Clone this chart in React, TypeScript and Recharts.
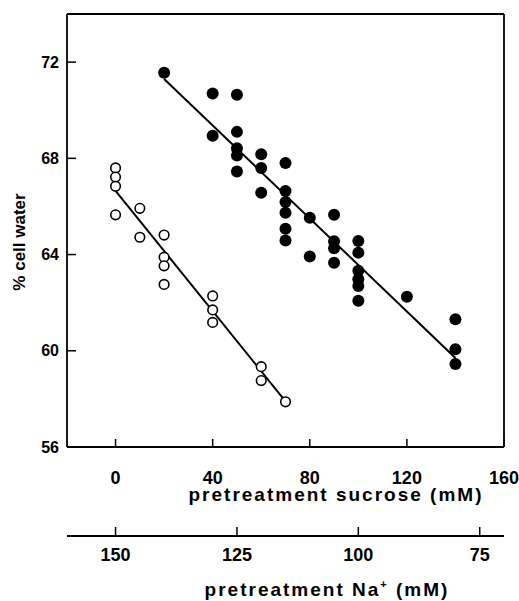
import { ScatterChart, Scatter, XAxis, YAxis } from 'recharts'

// closed circles: pretreatment sucrose
const sucroseX = [20, 40, 40, 50, 50, 50, 50, 50, 60, 60, 60, 70, 70, 70, 70, 70, 70, 80, 80, 90, 90, 90, 90, 100, 100, 100, 100, 100, 100, 120, 140, 140, 140]
const sucroseY = [71.56, 70.7, 68.94, 70.64, 69.1, 68.42, 68.12, 67.45, 68.17, 67.6, 66.57, 67.81, 66.64, 66.18, 65.74, 65.07, 64.58, 65.53, 63.92, 65.65, 64.55, 64.26, 63.66, 64.56, 64.08, 63.33, 62.97, 62.69, 62.08, 62.25, 61.31, 60.06, 59.45]

// open circles
const openX = [0, 0, 0, 0, 10, 10, 20, 20, 20, 20, 40, 40, 40, 60, 60, 70]
const openY = [67.6, 67.22, 66.84, 65.65, 65.92, 64.72, 64.81, 63.89, 63.53, 62.76, 62.28, 61.7, 61.18, 59.34, 58.76, 57.88]

// regression line end points
const sucroseFitX = [20, 140]
const sucroseFitY = [71.3, 59.7]
const openFitX = [0, 70]
const openFitY = [66.65, 57.9]

const sucroseTicks = [0, 40, 80, 120, 160]
const naTicks = [150, 125, 100, 75]
const waterTicks = [56, 60, 64, 68, 72]

const pts = (xs: number[], ys: number[]) => xs.map((x, i) => ({ x, y: ys[i] }))

const filledDot = (p: any) => <circle cx={p.cx} cy={p.cy} r={6} fill="#000" />
const openDot = (p: any) => <circle cx={p.cx} cy={p.cy} r={4.8} fill="#fff" stroke="#000" strokeWidth={1.6} />
const noDot = () => <g />

const axisStroke = { stroke: '#000', strokeWidth: 1.8 }
const tickStroke = { stroke: '#000', strokeWidth: 1.5 }

export default function App() {
  return (
    <div style={{ position: 'absolute', left: 0, top: 0, background: '#fff', fontFamily: '"Liberation Sans", Arial, sans-serif', fontWeight: 'bold' }}>
      <ScatterChart width={519} height={601} margin={{ top: 13, right: 14, left: 0, bottom: 0 }}>
        <XAxis
          type="number"
          dataKey="x"
          domain={[-20, 160]}
          ticks={sucroseTicks}
          allowDataOverflow
          height={89}
          axisLine={axisStroke}
          tickLine={tickStroke}
          tickSize={-8}
          tickMargin={32}
          tick={{ fontSize: 18, fill: '#000' }}
          label={() => (
            <text x={336} y={501} textAnchor="middle" fontSize={19} letterSpacing={2} fill="#000">
              pretreatment sucrose (mM)
            </text>
          )}
        />
        <XAxis
          xAxisId="na"
          type="number"
          dataKey="x"
          domain={[70, 160]}
          reversed
          ticks={naTicks}
          allowDataOverflow
          height={65}
          axisLine={axisStroke}
          tickLine={tickStroke}
          tickSize={-9}
          tickMargin={21}
          tick={{ fontSize: 18, fill: '#000' }}
          label={() => (
            <text x={327} y={596} textAnchor="middle" fontSize={19} letterSpacing={2} fill="#000">
              pretreatment Na
              <tspan dy={-8} fontSize={11}>+</tspan>
              <tspan dy={8}>  (mM)</tspan>
            </text>
          )}
        />
        <XAxis
          xAxisId="top"
          orientation="top"
          type="number"
          dataKey="x"
          domain={[-20, 160]}
          ticks={sucroseTicks}
          allowDataOverflow
          height={1}
          axisLine={axisStroke}
          tickLine={tickStroke}
          tickSize={-8}
          tick={false}
        />
        <YAxis
          type="number"
          dataKey="y"
          domain={[56, 74]}
          ticks={waterTicks}
          allowDataOverflow
          width={67}
          axisLine={axisStroke}
          tickLine={tickStroke}
          tickSize={-9}
          tickMargin={17}
          tick={{ fontSize: 16, fill: '#000' }}
          label={() => (
            <text x={19} y={242} transform="rotate(-90, 19, 242)" textAnchor="middle" dominantBaseline="central" fontSize={17} fill="#000">
              % cell water
            </text>
          )}
        />
        <YAxis
          yAxisId="r"
          orientation="right"
          type="number"
          dataKey="y"
          domain={[56, 74]}
          ticks={waterTicks}
          allowDataOverflow
          width={1}
          axisLine={axisStroke}
          tickLine={tickStroke}
          tickSize={-8}
          tick={false}
        />
        {/* invisible helpers so the frame axes get their ticks */}
        <Scatter xAxisId="top" yAxisId="r" data={pts(sucroseTicks, waterTicks)} shape={noDot} isAnimationActive={false} />
        <Scatter xAxisId="na" yAxisId="r" data={pts(naTicks, waterTicks)} shape={noDot} isAnimationActive={false} />

        <Scatter data={pts(sucroseFitX, sucroseFitY)} line={{ stroke: '#000', strokeWidth: 2 }} shape={noDot} isAnimationActive={false} />
        <Scatter data={pts(openFitX, openFitY)} line={{ stroke: '#000', strokeWidth: 2 }} shape={noDot} isAnimationActive={false} />
        <Scatter data={pts(sucroseX, sucroseY)} shape={filledDot} isAnimationActive={false} />
        <Scatter data={pts(openX, openY)} shape={openDot} isAnimationActive={false} />
      </ScatterChart>
    </div>
  )
}
